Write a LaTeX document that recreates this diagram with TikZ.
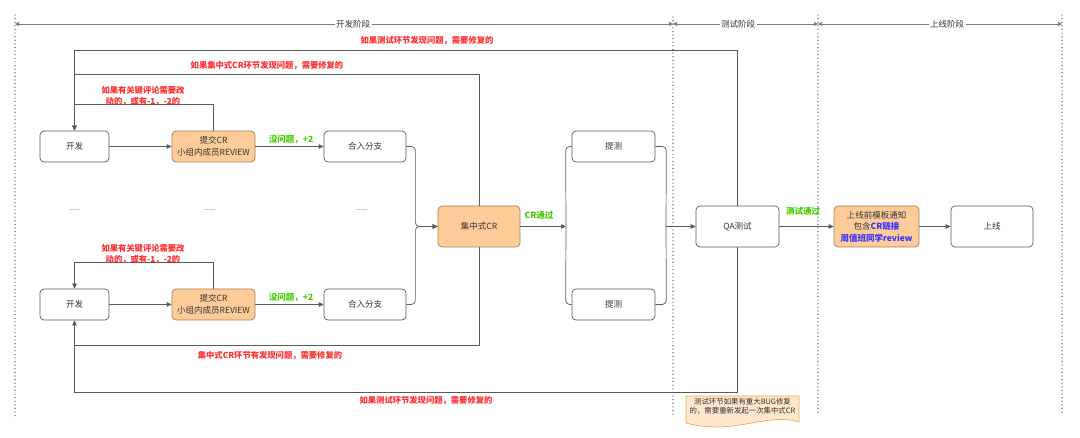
\documentclass[tikz,border=0pt]{standalone}
\usepackage{fontspec}
\setmainfont{Noto Sans CJK SC}
\usetikzlibrary{arrows.meta,calc}
\definecolor{linec}{HTML}{5A5A5A}
\definecolor{txtc}{HTML}{333333}
\definecolor{orangef}{HTML}{FFCC99}
\definecolor{oranged}{HTML}{A08060}
\definecolor{redc}{HTML}{FF2D2D}
\definecolor{greenc}{HTML}{44CC00}
\definecolor{bluec}{HTML}{3333FF}
\definecolor{notef}{HTML}{FFE6CC}
\definecolor{noted}{HTML}{E8B04A}
\definecolor{dotc}{HTML}{777777}
\tikzset{
  box/.style={draw=linec, rounded corners=4pt, minimum width=83pt, minimum height=31pt,
    fill=white, text=txtc, font=\fontsize{8.5}{11.5}\selectfont, align=center, line width=0.7pt, inner sep=1pt},
  obox/.style={box, fill=orangef, draw=oranged},
  conn/.style={draw=linec, line width=0.7pt},
  arr/.style={conn, -{Triangle[length=5pt,width=4.5pt]}},
  redlab/.style={text=redc, font=\fontsize{8.3}{11}\selectfont\bfseries, align=center, inner sep=1pt},
  greenlab/.style={text=greenc, font=\fontsize{8.5}{10}\selectfont\bfseries, inner sep=1pt},
  phase/.style={draw=linec!80, line width=0.6pt, {Triangle[length=4pt,width=4pt]}-{Triangle[length=4pt,width=4pt]}},
  phaselab/.style={fill=white, text=txtc, font=\fontsize{8.5}{10}\selectfont, inner sep=1.5pt},
  dotline/.style={draw=dotc, line width=1.1pt, dash pattern=on 0.01pt off 3.6pt, line cap=round},
  dotsn/.style={text=txtc, font=\fontsize{7}{8}\selectfont}
}
\begin{document}
\begin{tikzpicture}[x=1pt,y=-1pt]
\useasboundingbox (0,0) rectangle (1080,438);

% phase dotted separators
\draw[dotline] (15,15) -- (15,417);
\draw[dotline] (673,17) -- (673,417);
\draw[dotline] (818,15) -- (818,415);
\draw[dotline] (1062,15) -- (1062,415);

% phase arrows
\draw[phase] (15,24) -- (673,24);
\draw[phase] (673,24) -- (818,24);
\draw[phase] (818,24) -- (1062,24);
\node[phaselab] (ph1) at (353,24) {开发阶段};
\node[phaselab] (ph2) at (738,24) {测试阶段};
\node[phaselab] (ph3) at (947,24) {上线阶段};

% nodes
\node[box, minimum width=69pt] (d1) at (74.5,146.5) {开发};
\node[obox] (s1) at (213.5,146.5) {提交CR\\小组内成员REVIEW};
\node[box, minimum width=82pt] (m1) at (365,146.5) {合入分支};
\node[box, minimum width=69pt] (d2) at (74.5,304.5) {开发};
\node[obox] (s2) at (213.5,304.5) {提交CR\\小组内成员REVIEW};
\node[box, minimum width=82pt] (m2) at (365,304.5) {合入分支};
\node[obox, minimum width=82pt, minimum height=41pt] (cr) at (479,226.5) {集中式CR};
\node[box] (t1) at (613.5,146.5) {提测};
\node[box] (t2) at (613.5,304.5) {提测};
\node[box, minimum height=41pt] (qa) at (737.5,226.5) {QA测试};
\node[obox, minimum width=85pt, minimum height=41pt] (pre) at (876.5,226.5) {上线前模板通知\\包含\textcolor{bluec}{\bfseries CR链接}\\\textcolor{bluec}{\bfseries 周值班同学review}};
\node[box, minimum width=82pt, minimum height=41pt] (up) at (992,226.5) {上线};

% dots
\node[dotsn] (dt1) at (75,210) {......};
\node[dotsn] (dt2) at (210,210) {......};
\node[dotsn] (dt3) at (362,210) {......};

% main flow
\draw[arr] (d1) -- (s1);
\draw[arr] (s1) -- (m1);
\node[greenlab] (ok1) at (291,140) {没问题，+2};
\draw[arr] (d2) -- (s2);
\draw[arr] (s2) -- (m2);
\node[greenlab] (ok2) at (291,298) {没问题，+2};

% small review loops
\draw[arr] (s1.north) -- ++(0,-26) -| (d1.north);
\node[redlab] (rl1) at (143,96.5) {如果有关键评论需要改\\动的，或有-1，-2的};
\draw[arr] (s2.north) -- ++(0,-26) -| (d2.north);
\node[redlab] (rl2) at (143,254.5) {如果有关键评论需要改\\动的，或有-1，-2的};

% big feedback loops
\coordinate (fbt) at (74.5,50);
\coordinate (fbc) at (74.5,74);
\coordinate (fbb) at (74.5,392);
\coordinate (fbd) at (74.5,345.5);
\draw[arr] (qa.north) |- (fbt) -- (d1.north);
\draw[conn] (cr.north) |- (fbc);
\draw[arr] (qa.south) |- (fbb) -- (d2.south);
\draw[conn] (cr.south) |- (fbd);
\node[redlab] (fl1) at (427,40.5) {如果测试环节发现问题，需要修复的};
\node[redlab] (fl2) at (267,65.5) {如果集中式CR环节发现问题，需要修复的};
\node[redlab] (fl3) at (270,356) {集中式CR环节有发现问题，需要修复的};
\node[redlab] (fl4) at (426,400.5) {如果测试环节发现问题，需要修复的};

% braces into central CR
\draw[arr, rounded corners=4pt] (m1.east) -- ++(9,0) |- (cr.west);
\draw[arr, rounded corners=4pt] (m2.east) -- ++(9,0) |- (cr.west);

% CR to test submissions
\coordinate (j1) at (566,226.5);
\draw[arr] (cr.east) -- (j1);
\node[greenlab] (crok) at (539,215.5) {CR通过};
\draw[conn, rounded corners=4pt] (t1.west) -- ++(-6,0) -- (j1);
\draw[conn, rounded corners=4pt] (t2.west) -- ++(-6,0) -- (j1);

% test submissions to QA
\coordinate (j2) at (666,226.5);
\draw[conn, rounded corners=4pt] (t1.east) -- ++(11,0) -- (j2);
\draw[conn, rounded corners=4pt] (t2.east) -- ++(11,0) -- (j2);
\draw[arr] (j2) -- (qa.west);

% QA to release
\draw[arr] (qa) -- (pre);
\node[greenlab] (qaok) at (803,211) {测试通过};
\draw[arr] (pre) -- (up);

% note
\draw[draw=noted, fill=notef, line width=0.7pt] (686,396) -- (799,396) -- (799,422)
  .. controls (765,412) and (735,436) .. (686,423) -- cycle;
\node[text=txtc, font=\fontsize{7.4}{9.3}\selectfont, align=center, inner sep=0pt] (note) at (742.5,406.5)
  {测试环节如果有重大BUG修复\\的，需要重新发起一次集中式CR};
\end{tikzpicture}
\end{document}
